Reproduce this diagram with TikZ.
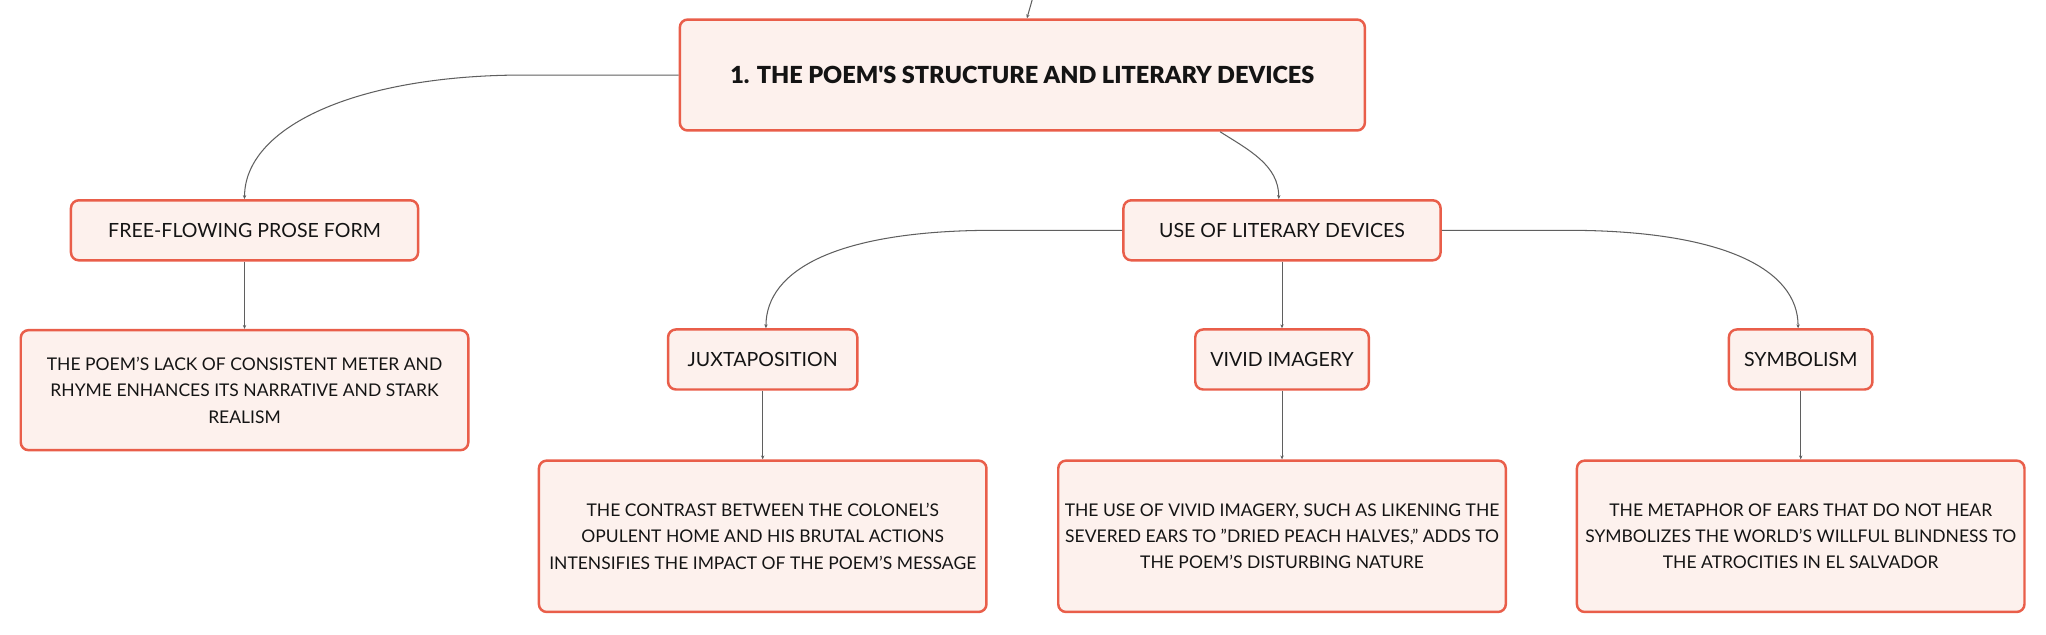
\documentclass[tikz,border=0pt]{standalone}
\usepackage{fontspec}
\setmainfont{Lato}
\newfontfamily\heavyfont{Lato Black}
\definecolor{topicred}{RGB}{233,94,74}
\definecolor{topicfill}{RGB}{253,241,237}
\definecolor{linkgrey}{RGB}{95,95,95}
\usetikzlibrary{positioning, arrows.meta}
\tikzset{
x=1pt, y=-1pt, % one unit per pixel, y pointing down
>={Stealth[length=3pt,width=2.6pt]}, % small arrow heads on the links
node distance=119pt, % vertical step between the levels. Change if necessary.
topic/.style={draw=topicred, line width=1.9pt, fill=topicfill, rounded corners=6pt, align=center, text=black!92}, % every box
root/.style={topic, minimum width=525pt, minimum height=85pt, font=\fontsize{18}{21}\heavyfont}, % the central box
}
\tikzset{
  branch/.append style={topic, minimum height=46pt, font=\fontsize{15}{18}\selectfont},
  leaf/.append style={topic, minimum width=343pt, minimum height=116pt, font=\fontsize{13.4}{20.2}\selectfont},
  link/.style={draw=linkgrey, line width=0.8pt, ->}
}

\begin{document}
\begin{tikzpicture}
      \useasboundingbox (0,0) rectangle (1568,486);
      \node[root] (main) at (783.5,57.5) {1. THE POEM'S STRUCTURE AND LITERARY DEVICES};
      \coordinate (up) at (791,0);
      \node[branch, below of=main, xshift=-596.1pt, minimum width=266pt] (prose) {FREE-FLOWING PROSE FORM};
      \node[leaf, below of=prose, node distance=122.5pt, minimum height=92pt] (realism) {THE POEM'S LACK OF CONSISTENT METER AND\\RHYME ENHANCES ITS NARRATIVE AND STARK\\REALISM};
      \node[branch, below of=main, xshift=199pt, minimum width=243pt] (devices) {USE OF LITERARY DEVICES};
      \node[branch, below of=devices, node distance=99pt, xshift=-398pt, minimum width=145pt] (juxta) {JUXTAPOSITION};
      \node[branch, below of=devices, node distance=99pt, minimum width=133pt] (imagery) {VIVID IMAGERY};
      \node[branch, below of=devices, node distance=99pt, xshift=397.5pt, minimum width=110pt] (symbol) {SYMBOLISM};
      \node[leaf, below of=juxta, node distance=135.5pt] (contrast) {THE CONTRAST BETWEEN THE COLONEL'S\\OPULENT HOME AND HIS BRUTAL ACTIONS\\INTENSIFIES THE IMPACT OF THE POEM'S MESSAGE};
      \node[leaf, below of=imagery, node distance=135.5pt] (peach) {THE USE OF VIVID IMAGERY, SUCH AS LIKENING THE\\SEVERED EARS TO \symbol{"22}DRIED PEACH HALVES,\symbol{"22} ADDS TO\\THE POEM'S DISTURBING NATURE};
      \node[leaf, below of=symbol, node distance=135.5pt] (ears) {THE METAPHOR OF EARS THAT DO NOT HEAR\\SYMBOLIZES THE WORLD'S WILLFUL BLINDNESS TO\\THE ATROCITIES IN EL SALVADOR};

      \draw[link] (up) -- ([xshift=3.5pt]main.north);
      \draw[link] (main.west) -- ++(-118pt,0pt) .. controls +(-130pt,0pt) and +(0pt,55pt) .. (prose.north);
      \draw[link] ([xshift=151.5pt]main.south) .. controls +(22pt,-14pt) and +(0pt,26pt) .. ([xshift=-2.5pt]devices.north);
      \draw[link] (prose) -- (realism);
      \draw[link] (devices.west) -- ++(-98pt,0pt) .. controls +(-120pt,0pt) and +(0pt,45pt) .. ([xshift=2.5pt]juxta.north);
      \draw[link] (devices.east) -- ++(96pt,0pt) .. controls +(120pt,0pt) and +(0pt,45pt) .. ([xshift=-2pt]symbol.north);
      \draw[link] (devices) -- (imagery);
      \draw[link] (juxta) -- (contrast);
      \draw[link] (imagery) -- (peach);
      \draw[link] (symbol) -- (ears);
    \end{tikzpicture}
\end{document}
